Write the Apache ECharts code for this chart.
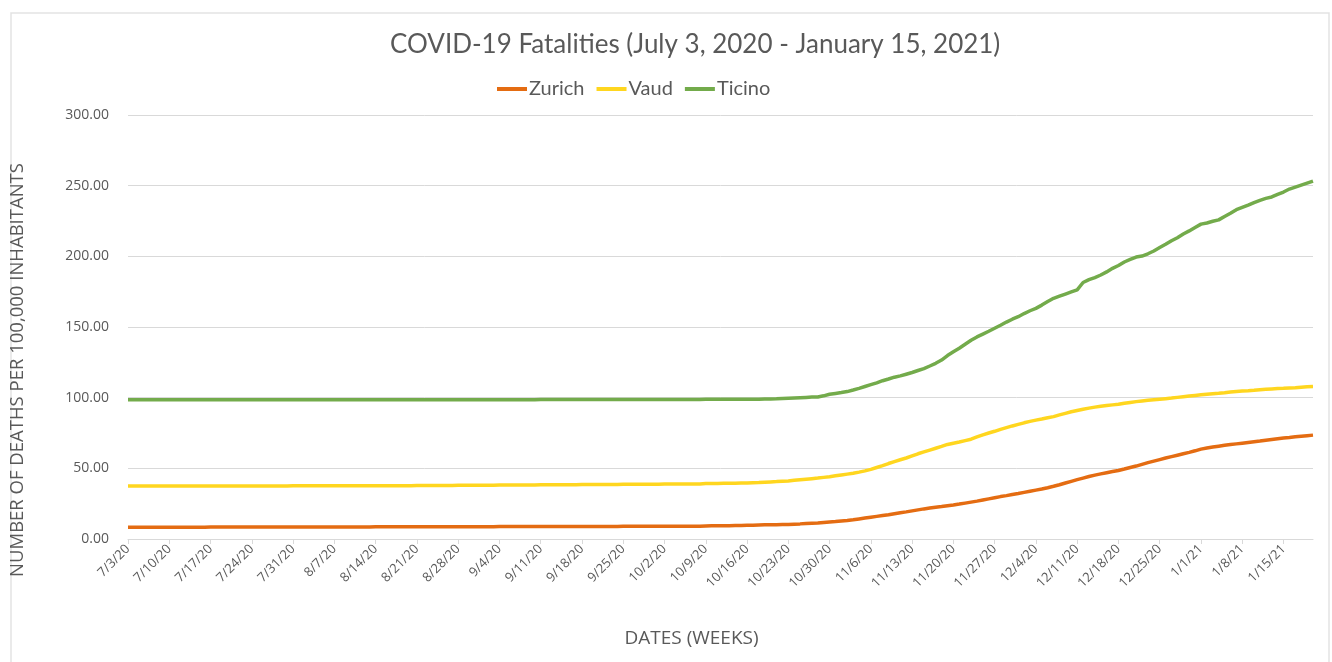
<!DOCTYPE html>
<html lang="en">
  <head>
    <meta charset="UTF-8" />
    <title>COVID-19 Fatalities</title>
    <script src="https://cdn.jsdelivr.net/npm/echarts@6.0.0/dist/echarts.min.js"></script>
    <style>
      body { margin: 0; background: #fff; }
    </style>
  </head>

  <body>
    <div id="main" style="width: 1332px; height: 662px"></div>

    <script type="text/javascript">
      // daily values, 7/3/20 .. 1/20/21 (202 days)
      const firstDay = new Date(2020, 6, 3);
      const dayCount = 202;

      const zurich = [
        8.3, 8.3, 8.3, 8.3, 8.3, 8.3, 8.3,
        8.3, 8.3, 8.3, 8.3, 8.3, 8.3, 8.3,
        8.5, 8.5, 8.5, 8.5, 8.5, 8.5, 8.5,
        8.5, 8.5, 8.5, 8.5, 8.5, 8.5, 8.5,
        8.5, 8.5, 8.5, 8.5, 8.5, 8.5, 8.5,
        8.5, 8.5, 8.5, 8.5, 8.5, 8.5, 8.5,
        8.7, 8.7, 8.7, 8.7, 8.7, 8.7, 8.7,
        8.7, 8.7, 8.7, 8.7, 8.7, 8.7, 8.7,
        8.7, 8.7, 8.7, 8.7, 8.7, 8.7, 8.7,
        8.9, 8.9, 8.9, 8.9, 8.9, 8.9, 8.9,
        8.9, 8.9, 8.9, 8.9, 8.9, 8.9, 8.9,
        8.9, 8.9, 8.9, 8.9, 8.9, 8.9, 8.9,
        9.1, 9.1, 9.1, 9.1, 9.1, 9.1, 9.1,
        9.1, 9.1, 9.1, 9.1, 9.1, 9.1, 9.1,
        9.2, 9.3, 9.3, 9.4, 9.4, 9.5, 9.6,
        9.7, 9.8, 9.9, 10.0, 10.0, 10.1, 10.2,
        10.3, 10.5, 10.7, 11.0, 11.2, 11.4, 11.7,
        12.0, 12.3, 12.7, 13.1, 13.6, 14.2, 14.8,
        15.4, 16.0, 16.6, 17.2, 17.9, 18.6, 19.2,
        19.9, 20.6, 21.3, 21.9, 22.5, 23.0, 23.6,
        24.1, 24.7, 25.4, 26.1, 26.8, 27.6, 28.4,
        29.2, 30.0, 30.7, 31.5, 32.2, 33.0, 33.8,
        34.6, 35.4, 36.3, 37.3, 38.4, 39.6, 40.8,
        42.0, 43.1, 44.2, 45.2, 46.1, 46.9, 47.7,
        48.5, 49.5, 50.6, 51.6, 52.8, 54.0, 55.1,
        56.2, 57.3, 58.3, 59.3, 60.3, 61.3, 62.4,
        63.6, 64.4, 65.1, 65.7, 66.3, 66.8, 67.3,
        67.8, 68.3, 68.8, 69.3, 69.9, 70.4, 70.9,
        71.4, 71.8, 72.3, 72.7, 73.1, 73.5
      ];

      const vaud = [
        37.5, 37.5, 37.5, 37.5, 37.5, 37.5, 37.5,
        37.5, 37.5, 37.5, 37.5, 37.5, 37.5, 37.5,
        37.5, 37.5, 37.5, 37.5, 37.5, 37.5, 37.5,
        37.5, 37.5, 37.5, 37.5, 37.5, 37.5, 37.5,
        37.6, 37.6, 37.6, 37.6, 37.6, 37.6, 37.6,
        37.6, 37.6, 37.6, 37.6, 37.6, 37.6, 37.6,
        37.7, 37.7, 37.7, 37.7, 37.7, 37.7, 37.7,
        37.9, 37.9, 37.9, 37.9, 37.9, 37.9, 37.9,
        38.0, 38.0, 38.0, 38.0, 38.0, 38.0, 38.0,
        38.2, 38.2, 38.2, 38.2, 38.2, 38.2, 38.2,
        38.3, 38.3, 38.3, 38.3, 38.3, 38.3, 38.3,
        38.6, 38.6, 38.6, 38.6, 38.6, 38.6, 38.6,
        38.8, 38.8, 38.8, 38.8, 38.8, 38.8, 38.8,
        39.0, 39.0, 39.0, 39.0, 39.0, 39.0, 39.0,
        39.2, 39.3, 39.3, 39.4, 39.5, 39.5, 39.6,
        39.7, 39.8, 39.9, 40.2, 40.4, 40.6, 40.9,
        41.1, 41.5, 41.9, 42.3, 42.7, 43.1, 43.6,
        44.1, 44.7, 45.3, 45.9, 46.5, 47.3, 48.2,
        49.3, 50.6, 51.9, 53.4, 54.8, 56.1, 57.3,
        58.8, 60.3, 61.6, 62.9, 64.2, 65.5, 66.9,
        67.8, 68.6, 69.6, 70.6, 72.2, 73.7, 75.0,
        76.2, 77.6, 78.8, 80.0, 81.1, 82.2, 83.2,
        84.1, 84.9, 85.8, 86.6, 87.8, 88.9, 90.0,
        90.9, 91.8, 92.6, 93.3, 93.9, 94.4, 94.9,
        95.3, 96.0, 96.6, 97.2, 97.7, 98.1, 98.5,
        98.9, 99.3, 99.7, 100.2, 100.7, 101.2, 101.6,
        102.0, 102.4, 102.8, 103.1, 103.5, 104.0, 104.4,
        104.7, 104.9, 105.2, 105.6, 105.9, 106.2, 106.4,
        106.6, 106.9, 107.1, 107.4, 107.7, 107.9
      ];

      const ticino = [
        98.6, 98.6, 98.6, 98.6, 98.6, 98.6, 98.6,
        98.6, 98.6, 98.6, 98.6, 98.6, 98.6, 98.6,
        98.6, 98.6, 98.6, 98.6, 98.6, 98.6, 98.6,
        98.6, 98.6, 98.6, 98.6, 98.6, 98.6, 98.6,
        98.6, 98.6, 98.6, 98.6, 98.6, 98.6, 98.6,
        98.6, 98.6, 98.6, 98.6, 98.6, 98.6, 98.6,
        98.6, 98.6, 98.6, 98.6, 98.6, 98.6, 98.6,
        98.6, 98.6, 98.6, 98.6, 98.6, 98.6, 98.6,
        98.6, 98.6, 98.6, 98.6, 98.6, 98.6, 98.6,
        98.6, 98.6, 98.6, 98.6, 98.6, 98.6, 98.6,
        98.7, 98.7, 98.7, 98.7, 98.7, 98.7, 98.7,
        98.7, 98.7, 98.7, 98.7, 98.7, 98.7, 98.7,
        98.7, 98.7, 98.7, 98.7, 98.7, 98.7, 98.7,
        98.7, 98.7, 98.7, 98.7, 98.7, 98.7, 98.7,
        98.8, 98.8, 98.8, 98.9, 98.9, 98.9, 98.9,
        98.9, 98.9, 98.9, 99.0, 99.1, 99.2, 99.4,
        99.6, 99.8, 100.0, 100.2, 100.4, 100.5, 101.3,
        102.4, 103.0, 103.6, 104.3, 105.4, 106.6, 107.9,
        109.2, 110.5, 112.0, 113.2, 114.5, 115.4, 116.6,
        117.8, 119.2, 120.6, 122.4, 124.3, 126.6, 129.8,
        132.5, 135.0, 137.8, 140.6, 143.0, 145.0, 147.0,
        149.1, 151.2, 153.5, 155.5, 157.3, 159.5, 161.5,
        163.2, 165.5, 168.0, 170.3, 171.8, 173.3, 174.8,
        176.3, 181.5, 183.5, 185.0, 186.8, 189.0, 191.5,
        193.5, 196.0, 197.8, 199.5, 200.2, 201.8, 203.8,
        206.2, 208.5, 211.0, 213.2, 215.8, 218.0, 220.4,
        222.8, 223.6, 224.8, 225.8, 228.2, 230.5, 233.0,
        234.6, 236.2, 238.0, 239.6, 241.0, 242.0, 243.8,
        245.5, 247.6, 249.0, 250.4, 251.8, 253.2
      ];

      const seriesNames = ["Zurich", "Vaud", "Ticino"];
      const seriesColors = ["#E46C12", "#FFD61F", "#73AB4B"];
      const yTicks = [0, 50, 100, 150, 200, 250, 300];

      // category labels m/d/yy, one per day
      const dates = [];
      for (let i = 0; i < dayCount; i++) {
        const d = new Date(firstDay.getTime());
        d.setDate(d.getDate() + i);
        dates.push(d.getMonth() + 1 + "/" + d.getDate() + "/" + String(d.getFullYear()).slice(2));
      }

      const textColor = "#595959";
      const gridColor = "#D9D9D9";

      let myChart = echarts.init(document.getElementById("main"));

      let options = {
        backgroundColor: "#fff",
        animation: false,
        graphic: [
          {
            type: "rect",
            shape: { x: 11, y: 13, width: 1318, height: 700 },
            style: { fill: "none", stroke: "#E3E3E3", lineWidth: 1.5 },
            silent: true,
          },
        ],
        title: {
          text: "COVID-19 Fatalities (July 3, 2020 - January 15, 2021)",
          left: 385,
          top: 27,
          textStyle: { fontFamily: "Lato", fontSize: 26, fontWeight: "normal", color: textColor },
        },
        legend: {
          data: seriesNames,
          left: 492,
          top: 74,
          icon: "rect",
          itemWidth: 30,
          itemHeight: 4,
          itemGap: 12,
          textStyle: { fontFamily: "Lato", fontSize: 20, color: textColor, padding: [0, 0, 0, -3] },
        },
        grid: { left: 126, right: 19, top: 115, bottom: 123 },
        xAxis: {
          type: "category",
          data: dates,
          boundaryGap: false,
          name: "DATES (WEEKS)",
          nameLocation: "middle",
          nameGap: 90,
          nameTextStyle: { fontFamily: "Open Sans", fontSize: 19, color: textColor, padding: [0, 58, 0, 0] },
          axisLine: { lineStyle: { color: gridColor, width: 1 } },
          axisTick: { interval: 6, length: 5, lineStyle: { color: gridColor } },
          axisLabel: {
            interval: 6,
            rotate: 45,
            margin: 8,
            fontFamily: "Open Sans",
            fontSize: 13,
            color: textColor,
          },
          splitLine: { show: false },
        },
        yAxis: {
          type: "value",
          min: yTicks[0],
          max: yTicks[yTicks.length - 1],
          interval: 50,
          name: "NUMBER OF DEATHS PER 100,000 INHABITANTS",
          nameLocation: "middle",
          nameGap: 101,
          nameTextStyle: { fontFamily: "Open Sans", fontSize: 18.5, color: textColor, padding: [0, 86, 0, 0] },
          axisLine: { show: false },
          axisTick: { show: false },
          axisLabel: {
            margin: 19,
            fontFamily: "Open Sans",
            fontSize: 14,
            color: textColor,
            formatter: (v) => v.toFixed(2),
          },
          splitLine: { lineStyle: { color: gridColor, width: 1 } },
        },
        series: [zurich, vaud, ticino].map((values, k) => ({
          name: seriesNames[k],
          type: "line",
          data: values,
          symbol: "none",
          color: seriesColors[k],
          lineStyle: { width: 3.5, color: seriesColors[k] },
        })),
      };

      myChart.setOption(options);
    </script>
  </body>
</html>
